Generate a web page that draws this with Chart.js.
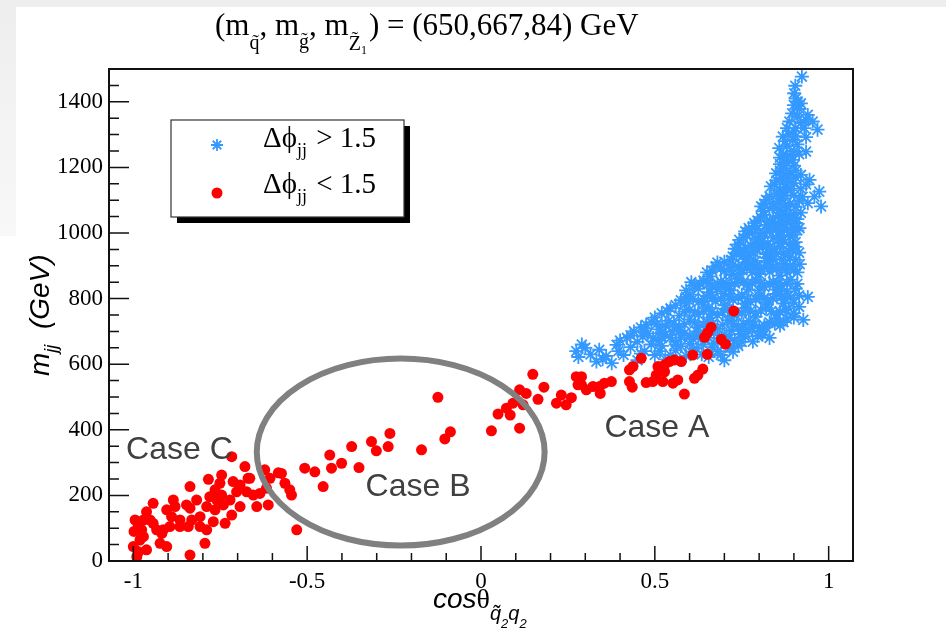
<!DOCTYPE html>
<html>
<head>
<meta charset="utf-8">
<script src="https://cdn.jsdelivr.net/npm/chart.js@4.4.1/dist/chart.umd.min.js"></script>
<style>
  html, body { margin: 0; padding: 0; background: #fff; }
  canvas { display: block; }
</style>
</head>
<body>
<canvas id="c" width="946" height="632"></canvas>
<script>
/* m_jj vs cos(theta) scatter, split by delta-phi(jj) */

const SERIF = '"Liberation Serif", "Times New Roman", serif';
const SANS = '"Liberation Sans", Arial, sans-serif';

const X_MAJOR = [-1, -0.5, 0, 0.5, 1];
const Y_MAJOR = [0, 200, 400, 600, 800, 1000, 1200, 1400];

// Δφ_jj < 1.5  (cosθ, m_jj [GeV])
const dphiLow = [
  [-0.717, 318], [-0.679, 288], [-0.746, 262], [-0.784, 249], [-0.751, 237], [-0.765, 217],
  [-0.746, 201], [-0.760, 186], [-0.780, 196], [-0.789, 166], [-0.765, 156], [-0.741, 171],
  [-0.722, 186], [-0.703, 211], [-0.713, 242], [-0.693, 232], [-0.670, 252], [-0.674, 211],
  [-0.655, 201], [-0.636, 206], [-0.622, 278], [-0.607, 252], [-0.617, 222], [-0.612, 171],
  [-0.645, 166], [-0.693, 166], [-0.717, 140], [-0.736, 115], [-0.770, 120], [-0.808, 135],
  [-0.808, 105], [-0.789, 95], [-0.794, 54], [-0.832, 125], [-0.837, 161], [-0.818, 186],
  [-0.837, 227], [-0.847, 171], [-0.866, 125], [-0.885, 186], [-0.880, 166], [-0.904, 156],
  [-0.895, 105], [-0.914, 95], [-0.904, 44], [-0.923, 54], [-0.943, 176], [-0.962, 150],
  [-0.952, 125], [-0.971, 74], [-0.995, 125], [-0.986, 105], [-1.000, 44], [-0.990, 13],
  [-0.962, 34], [-0.981, 64], [-0.837, 18], [-0.933, 95], [-0.866, 105], [-0.842, 105],
  [-0.890, 135], [-0.918, 84], [-0.971, 125], [-0.976, 95], [-0.943, 115], [-0.574, 267],
  [-0.564, 237], [-0.550, 217], [-0.545, 201], [-0.530, 95], [-0.507, 283], [-0.478, 272],
  [-0.454, 227], [-0.665, 252], [-0.583, 269], [-0.435, 323], [-0.998, 90], [-0.985, 28],
  [-0.430, 283], [-0.401, 298], [-0.372, 349], [-0.351, 285], [-0.315, 364], [-0.301, 336],
  [-0.267, 349], [-0.262, 389], [-0.171, 339], [-0.124, 499], [-0.104, 372], [-0.088, 394],
  [0.030, 397], [0.049, 448], [0.073, 466], [0.084, 445], [0.092, 481], [0.111, 522],
  [0.130, 511], [0.121, 476], [0.111, 405], [0.149, 569], [0.164, 493], [0.181, 530],
  [0.217, 481], [0.231, 506], [0.245, 476], [0.260, 498], [0.274, 562], [0.279, 537],
  [0.727, 762], [0.662, 713], [0.652, 696], [0.643, 682], [0.691, 676], [0.703, 661],
  [0.651, 630], [0.609, 628], [0.638, 585], [0.624, 567], [0.614, 557], [0.585, 509],
  [0.576, 608], [0.557, 613], [0.542, 608], [0.566, 552], [0.552, 542], [0.528, 598],
  [0.528, 577], [0.509, 593], [0.504, 567], [0.523, 547], [0.494, 547], [0.475, 544],
  [0.461, 618], [0.437, 593], [0.427, 583], [0.427, 547], [0.435, 530], [0.375, 547],
  [0.355, 542], [0.341, 532], [0.343, 511], [0.322, 532], [0.303, 522], [0.289, 537],
  [0.289, 562]
];

// Δφ_jj > 1.5
const dphiHigh = [
  // lower edge, 600-700 GeV
  [0.274, 640], [0.280, 622], [0.332, 608], [0.376, 603], [0.300, 650], [0.340, 644],
  [0.390, 659], [0.410, 628], [0.450, 612], [0.470, 640], [0.500, 628], [0.530, 615],
  [0.560, 642], [0.590, 625], [0.620, 648], [0.655, 622], [0.680, 640], [0.700, 612],
  [0.725, 638], [0.360, 625], [0.290, 660], [0.315, 630], [0.350, 615], [0.395, 640],
  [0.430, 652], [0.460, 632], [0.490, 660], [0.515, 640], [0.545, 628], [0.575, 655],
  [0.605, 638], [0.635, 630], [0.665, 652], [0.690, 628], [0.715, 650], [0.740, 656],
  [0.400, 672], [0.430, 688], [0.450, 668], [0.480, 694], [0.510, 672], [0.530, 690],
  [0.560, 668], [0.585, 694], [0.610, 676], [0.640, 696], [0.670, 664], [0.700, 690],
  [0.730, 672], [0.760, 684], [0.782, 669], [0.806, 699], [0.440, 700], [0.550, 700],
  [0.420, 680], [0.465, 684], [0.495, 680], [0.520, 682], [0.545, 680], [0.575, 682],
  [0.600, 688], [0.625, 684], [0.655, 680], [0.685, 678], [0.715, 680], [0.745, 692],
  [0.770, 700], [0.795, 686], [0.820, 712], [0.640, 660], [0.600, 662], [0.560, 660],
  [0.520, 656], [0.710, 662], [0.750, 668], [0.810, 690], [0.830, 680],
  // 700-800 GeV
  [0.460, 712], [0.490, 728], [0.515, 706], [0.540, 732], [0.570, 714], [0.600, 736],
  [0.625, 712], [0.650, 730], [0.680, 708], [0.710, 734], [0.740, 714], [0.770, 732],
  [0.800, 710], [0.830, 728], [0.860, 718], [0.880, 738], [0.500, 742], [0.790, 745],
  [0.475, 720], [0.505, 722], [0.530, 718], [0.555, 724], [0.585, 722], [0.615, 726],
  [0.640, 720], [0.665, 722], [0.695, 720], [0.725, 724], [0.755, 722], [0.785, 720],
  [0.815, 718], [0.845, 724], [0.870, 728], [0.900, 742], [0.470, 700], [0.520, 698],
  [0.570, 702], [0.620, 700], [0.670, 696], [0.720, 702], [0.750, 705], [0.780, 712],
  [0.660, 742], [0.720, 745], [0.850, 740],
  [0.520, 755], [0.545, 770], [0.570, 748], [0.600, 766], [0.625, 752], [0.655, 772],
  [0.680, 750], [0.710, 768], [0.735, 748], [0.760, 770], [0.790, 756], [0.820, 772],
  [0.850, 752], [0.875, 766], [0.900, 756], [0.915, 775], [0.560, 780], [0.640, 782],
  [0.535, 762], [0.585, 760], [0.615, 758], [0.640, 762], [0.665, 760], [0.695, 758],
  [0.720, 760], [0.750, 758], [0.775, 762], [0.805, 764], [0.835, 762], [0.860, 760],
  [0.885, 770], [0.590, 785], [0.870, 785], [0.700, 780], [0.760, 785], [0.820, 788],
  // 800-900 GeV
  [0.575, 795], [0.600, 812], [0.625, 790], [0.650, 808], [0.675, 792], [0.700, 815],
  [0.725, 796], [0.750, 812], [0.775, 790], [0.800, 808], [0.825, 794], [0.850, 814],
  [0.875, 798], [0.900, 788], [0.940, 805], [0.927, 735], [0.590, 825], [0.680, 828],
  [0.880, 822], [0.590, 805], [0.610, 800], [0.640, 800], [0.665, 802], [0.690, 800],
  [0.715, 806], [0.740, 802], [0.765, 800], [0.790, 798], [0.815, 802], [0.840, 800],
  [0.865, 806], [0.890, 804], [0.915, 810], [0.660, 820], [0.720, 825], [0.800, 825],
  [0.860, 826],
  [0.615, 840], [0.640, 855], [0.665, 836], [0.690, 852], [0.715, 838], [0.740, 860],
  [0.765, 842], [0.790, 858], [0.815, 836], [0.840, 852], [0.865, 840], [0.890, 858],
  [0.910, 845], [0.660, 868], [0.720, 872], [0.800, 875], [0.860, 870],
  [0.605, 850], [0.630, 845], [0.655, 848], [0.680, 844], [0.705, 848], [0.730, 846],
  [0.755, 850], [0.780, 846], [0.805, 848], [0.830, 844], [0.855, 848], [0.880, 846],
  [0.905, 830], [0.625, 830], [0.700, 835], [0.770, 828], [0.850, 828],
  [0.650, 880], [0.675, 898], [0.700, 884], [0.725, 904], [0.750, 888], [0.775, 905],
  [0.800, 890], [0.825, 910], [0.850, 892], [0.875, 906], [0.900, 888], [0.917, 905],
  [0.700, 912], [0.760, 922], [0.840, 920], [0.888, 925], [0.740, 875], [0.780, 880],
  [0.830, 882], [0.880, 880],
  [0.665, 885], [0.690, 892], [0.715, 890], [0.740, 896], [0.765, 892], [0.790, 898],
  [0.815, 894], [0.840, 898], [0.865, 892], [0.890, 898], [0.910, 880], [0.680, 910],
  [0.720, 918], [0.790, 915], [0.865, 918], [0.905, 918], [0.760, 910],
  // 900-1050 GeV
  [0.724, 928], [0.745, 945], [0.770, 932], [0.795, 950], [0.820, 936], [0.845, 954],
  [0.870, 938], [0.895, 952], [0.915, 940], [0.740, 965], [0.800, 968], [0.860, 970],
  [0.905, 972], [0.735, 938], [0.760, 955], [0.785, 940], [0.810, 958], [0.835, 944],
  [0.860, 958], [0.885, 944], [0.905, 958], [0.755, 932], [0.830, 928], [0.730, 952],
  [0.775, 962], [0.825, 965], [0.885, 966], [0.820, 925], [0.850, 935], [0.790, 965],
  [0.810, 975], [0.870, 980],
  [0.743, 979], [0.765, 995], [0.790, 982], [0.815, 1000], [0.840, 986], [0.865, 1004],
  [0.890, 990], [0.910, 1008], [0.770, 1015], [0.830, 1018], [0.916, 1015], [0.870, 1025],
  [0.755, 985], [0.780, 1000], [0.805, 988], [0.830, 1005], [0.855, 992], [0.880, 1008],
  [0.900, 995], [0.760, 1005], [0.795, 1012], [0.850, 1012], [0.895, 1018],
  [0.786, 1030], [0.805, 1048], [0.830, 1035], [0.855, 1052], [0.880, 1038], [0.906, 1030],
  [0.900, 1058], [0.810, 1066], [0.860, 1070], [0.920, 1062], [0.795, 1038], [0.815, 1055],
  [0.840, 1044], [0.865, 1060], [0.890, 1048], [0.910, 1042], [0.790, 1022], [0.845, 1025],
  [0.875, 1050], [0.820, 1025], [0.860, 1035],
  // 1050-1250 GeV
  [0.806, 1081], [0.820, 1101], [0.840, 1088], [0.865, 1105], [0.890, 1090], [0.940, 1091],
  [0.978, 1081], [0.959, 1111], [0.915, 1098], [0.850, 1118], [0.900, 1115], [0.878, 1071],
  [0.815, 1090], [0.830, 1075], [0.855, 1095], [0.875, 1085], [0.905, 1080], [0.925, 1110],
  [0.830, 1112], [0.875, 1115], [0.850, 1075],
  [0.834, 1142], [0.850, 1160], [0.875, 1140], [0.900, 1152], [0.920, 1135], [0.973, 1126],
  [0.945, 1162], [0.920, 1177], [0.860, 1130], [0.845, 1148], [0.865, 1168], [0.885, 1155],
  [0.905, 1170], [0.935, 1148], [0.860, 1190], [0.905, 1190], [0.880, 1175], [0.870, 1125],
  [0.890, 1130], [0.870, 1155],
  [0.849, 1182], [0.870, 1198], [0.890, 1185], [0.880, 1215], [0.900, 1205], [0.878, 1233],
  [0.897, 1223], [0.860, 1210], [0.870, 1240], [0.890, 1236], [0.915, 1240], [0.860, 1230],
  // top spike
  [0.858, 1259], [0.868, 1294], [0.897, 1284], [0.935, 1292], [0.935, 1248], [0.880, 1265],
  [0.900, 1250], [0.885, 1300], [0.910, 1270], [0.875, 1280], [0.905, 1295],
  [0.887, 1340], [0.968, 1315], [0.954, 1340], [0.940, 1360], [0.916, 1378], [0.911, 1401],
  [0.901, 1426], [0.904, 1449], [0.923, 1477], [0.905, 1320], [0.920, 1335], [0.895, 1365],
  [0.910, 1355], [0.930, 1320], [0.900, 1310], [0.880, 1320], [0.935, 1345], [0.900, 1390],
  [0.920, 1395], [0.905, 1410]
];

const toXY = arr => arr.map(([x, y]) => ({ x, y }));

// draws a run of text pieces one after another (for sub/superscripts)
function drawRun(ctx, x, y, parts) {
  for (const p of parts) {
    ctx.font = p.font;
    ctx.fillText(p.text, x, y + (p.dy || 0));
    x += ctx.measureText(p.text).width + (p.gap || 0);
  }
  return x;
}

const rootFrame = {
  id: 'rootFrame',
  beforeDraw(chart) {
    const { ctx, width, height } = chart;
    ctx.save();
    ctx.fillStyle = '#ffffff';
    ctx.fillRect(0, 0, width, height);
    ctx.fillStyle = '#eeeeee';
    ctx.fillRect(0, 0, width, 7);
    const g = ctx.createLinearGradient(0, 7, 0, 236);
    g.addColorStop(0, '#eeeeee');
    g.addColorStop(1, '#f8f8f8');
    ctx.fillStyle = g;
    ctx.fillRect(0, 7, 16, 229);
    ctx.restore();
  },
  afterDraw(chart) {
    const { ctx, chartArea: a, scales: { x: xs, y: ys } } = chart;
    ctx.save();

    // ellipse around the middle region
    const cx = xs.getPixelForValue(-0.231), cy = ys.getPixelForValue(332);
    const rx = xs.getPixelForValue(-0.231 + 0.414) - cx;
    const ry = cy - ys.getPixelForValue(332 + 285);
    ctx.strokeStyle = '#808080';
    ctx.lineWidth = 6;
    ctx.beginPath();
    ctx.ellipse(cx, cy, rx, ry, 0, 0, Math.PI * 2);
    ctx.stroke();

    // region labels
    ctx.fillStyle = '#404040';
    ctx.font = `32px ${SANS}`;
    ctx.textBaseline = 'alphabetic';
    ctx.fillText('Case A', xs.getPixelForValue(0.355), ys.getPixelForValue(378));
    ctx.fillText('Case B', xs.getPixelForValue(-0.332), ys.getPixelForValue(198));
    ctx.fillText('Case C', xs.getPixelForValue(-1.021), ys.getPixelForValue(311));

    // frame
    ctx.strokeStyle = '#111';
    ctx.lineWidth = 2;
    ctx.strokeRect(a.left, a.top, a.right - a.left, a.bottom - a.top);

    // tick marks, drawn inward like ROOT
    ctx.lineWidth = 1.5;
    ctx.beginPath();
    for (let i = -10; i <= 10; i++) {
      const px = xs.getPixelForValue(i / 10);
      const len = i % 5 === 0 ? 15 : 8;
      ctx.moveTo(px, a.bottom);
      ctx.lineTo(px, a.bottom - len);
    }
    for (let i = 0; i < 30; i++) {
      const py = ys.getPixelForValue(i * 50);
      const len = i % 4 === 0 ? 20 : 10;
      ctx.moveTo(a.left, py);
      ctx.lineTo(a.left + len, py);
    }
    ctx.stroke();

    // legend box with shadow
    const lx = 171, ly = 120, lw = 233, lh = 97;
    ctx.fillStyle = '#000';
    ctx.fillRect(lx + 6, ly + 6, lw, lh);
    ctx.fillStyle = '#fff';
    ctx.fillRect(lx, ly, lw, lh);
    ctx.strokeStyle = '#333';
    ctx.lineWidth = 1.2;
    ctx.strokeRect(lx, ly, lw, lh);

    const blue = chart.data.datasets[1], red = chart.data.datasets[0];
    ctx.strokeStyle = blue.borderColor;
    ctx.lineWidth = blue.pointBorderWidth;
    Chart.helpers.drawPoint(ctx, { pointStyle: 'star', radius: 6, borderWidth: blue.pointBorderWidth }, 217, 145);
    ctx.fillStyle = red.backgroundColor;
    ctx.beginPath();
    ctx.arc(217, 193, red.pointRadius, 0, Math.PI * 2);
    ctx.fill();

    ctx.fillStyle = '#000';
    drawRun(ctx, 263, 147, [
      { text: 'Δϕ', font: `29px ${SERIF}` },
      { text: 'jj', font: `18px ${SERIF}`, dy: 9, gap: 2 },
      { text: ' > 1.5', font: `29px ${SERIF}` }
    ]);
    drawRun(ctx, 263, 193, [
      { text: 'Δϕ', font: `29px ${SERIF}` },
      { text: 'jj', font: `18px ${SERIF}`, dy: 9, gap: 2 },
      { text: ' < 1.5', font: `29px ${SERIF}` }
    ]);

    // title
    drawRun(ctx, 215, 35, [
      { text: '(m', font: `31px ${SERIF}` },
      { text: 'q\u0303', font: `20px ${SERIF}`, dy: 14 },
      { text: ', m', font: `31px ${SERIF}` },
      { text: 'g\u0303', font: `20px ${SERIF}`, dy: 13 },
      { text: ', m', font: `31px ${SERIF}` },
      { text: 'Z\u0303', font: `20px ${SERIF}`, dy: 15 },
      { text: '1', font: `12px ${SERIF}`, dy: 19, gap: 2 },
      { text: ') = (650,667,84) GeV', font: `31px ${SERIF}` }
    ]);

    // x axis title
    drawRun(ctx, 433, 608, [
      { text: 'cos', font: `italic 28px ${SANS}` },
      { text: 'θ', font: `28px ${SERIF}` },
      { text: 'q\u0303', font: `italic 20px ${SANS}`, dy: 12 },
      { text: '2', font: `italic 13px ${SANS}`, dy: 20 },
      { text: 'q', font: `italic 20px ${SANS}`, dy: 12 },
      { text: '2', font: `italic 13px ${SANS}`, dy: 20 }
    ]);

    // y axis title, rotated
    ctx.translate(49, 376);
    ctx.rotate(-Math.PI / 2);
    drawRun(ctx, 0, 0, [
      { text: 'm', font: `italic 28px ${SANS}` },
      { text: 'jj', font: `italic 18px ${SANS}`, dy: 8 },
      { text: '  (GeV)', font: `italic 28px ${SANS}` }
    ]);

    ctx.restore();
  }
};

new Chart(document.getElementById('c'), {
  type: 'scatter',
  data: {
    datasets: [
      {
        label: 'Δϕjj < 1.5',
        data: toXY(dphiLow),
        pointStyle: 'circle',
        pointRadius: 5.5,
        pointBorderWidth: 0,
        backgroundColor: '#ff0000',
        borderColor: '#ff0000',
        order: 1
      },
      {
        label: 'Δϕjj > 1.5',
        data: toXY(dphiHigh),
        pointStyle: 'star',
        pointRadius: 7,
        pointBorderWidth: 1.8,
        backgroundColor: '#3399ff',
        borderColor: '#3399ff',
        order: 2
      }
    ]
  },
  options: {
    responsive: false,
    animation: false,
    events: [],
    layout: { padding: { left: 0, top: 69, right: 93, bottom: 0 } },
    plugins: { legend: { display: false }, tooltip: { enabled: false } },
    scales: {
      x: {
        type: 'linear',
        min: -1.07,
        max: 1.07,
        grid: { display: false, drawTicks: false },
        border: { display: false },
        afterBuildTicks: s => { s.ticks = X_MAJOR.map(v => ({ value: v })); },
        afterFit: s => { s.height = 71; },
        ticks: {
          autoSkip: false,
          maxRotation: 0,
          padding: 7,
          color: '#000',
          font: { family: SERIF, size: 23 },
          callback: v => String(v)
        }
      },
      y: {
        type: 'linear',
        min: 0,
        max: 1500,
        grid: { display: false, drawTicks: false },
        border: { display: false },
        afterBuildTicks: s => { s.ticks = Y_MAJOR.map(v => ({ value: v })); },
        afterFit: s => { s.width = 109; },
        ticks: {
          autoSkip: false,
          padding: 6,
          color: '#000',
          font: { family: SERIF, size: 23 },
          callback: v => String(v)
        }
      }
    }
  },
  plugins: [rootFrame]
});
</script>
</body>
</html>
